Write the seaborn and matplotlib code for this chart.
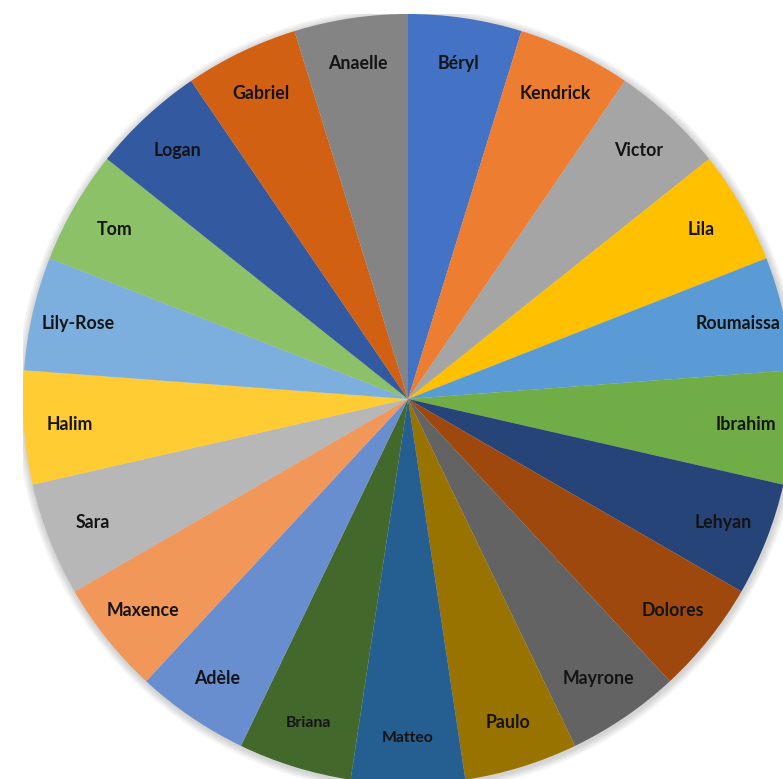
import matplotlib
matplotlib.use("Agg")
import matplotlib.pyplot as plt
import seaborn as sns
from matplotlib.patches import Circle

names = ["Béryl", "Kendrick", "Victor", "Lila", "Roumaissa", "Ibrahim", "Lehyan",
         "Dolores", "Mayrone", "Paulo", "Matteo", "Briana", "Adèle", "Maxence",
         "Sara", "Halim", "Lily-Rose", "Tom", "Logan", "Gabriel", "Anaelle"]
values = [1] * len(names)
colors = ["#4472C4", "#ED7D31", "#A5A5A5", "#FFC000", "#5B9BD5", "#70AD47",
          "#264478", "#9E480E", "#636363", "#997300", "#255E91", "#43682B",
          "#698ED0", "#F1975A", "#B7B7B7", "#FFCD33", "#7CAFDD", "#8CC168",
          "#335AA1", "#D26012", "#848484"]

sns.set_theme(style="white")
plt.rcParams['font.family'] = ['Lato', 'DejaVu Sans']

W, H = 783, 779
fig = plt.figure(figsize=(W / 100, H / 100), dpi=100)
cx, cy, R = 408, 399, 385
ax = fig.add_axes([(cx - R) / W, (H - cy - R) / H, 2 * R / W, 2 * R / H])

# soft shadow
for i in range(4):
    ax.add_patch(Circle((0.002, -0.004), 1.0 + 0.005 * (i + 1), color="black",
                        alpha=0.045, lw=0, zorder=0))

wedges, texts = ax.pie(values, labels=names, colors=colors, startangle=90,
                       counterclock=False, labeldistance=0.88,
                       wedgeprops=dict(linewidth=0),
                       textprops=dict(fontsize=12.8, fontweight="bold",
                                      color="#141414", ha="center", va="center"))
for w in wedges:
    w.set_zorder(2)
for t in texts:
    t.set_horizontalalignment("center")
    t.set_verticalalignment("center")
    t.set_zorder(3)
    if t.get_text() in ("Matteo", "Briana"):
        t.set_fontsize(11.3)

ax.set_aspect("auto")
ax.set_xlim(-1, 1)
ax.set_ylim(-1, 1)
ax.axis("off")
fig.savefig("out.png", dpi=100, facecolor="white")
